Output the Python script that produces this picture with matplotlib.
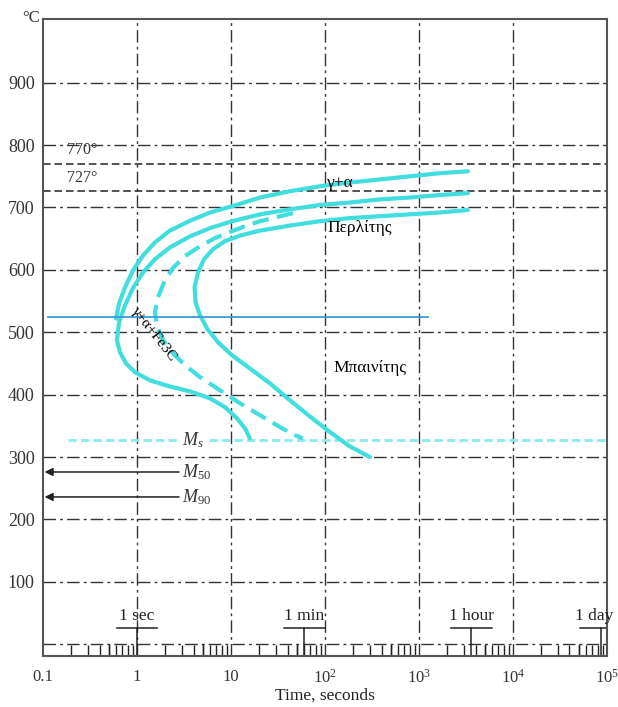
import numpy as np
import matplotlib.pyplot as plt

plt.rcParams['font.family'] = ['Liberation Serif', 'DejaVu Serif']
plt.rcParams['mathtext.fontset'] = 'custom'
plt.rcParams['mathtext.rm'] = 'Liberation Serif'
plt.rcParams['mathtext.it'] = 'Liberation Serif:italic'

# ferrite start (gamma + alpha)
t_fs = [3320, 1672, 802, 385, 184, 88.5, 42.4, 20.4, 10.3, 6.0, 3.7, 2.24, 1.55, 1.16, 0.906, 0.745, 0.644, 0.598]
T_fs = [758, 755, 750, 745, 740, 734, 726, 716, 702, 692, 679, 663, 644, 623, 599, 572, 546, 522]

# pearlite / bainite start
t_ps = [3320, 1672, 802, 385, 184, 88.5, 42.4, 20.4, 10.3, 6.0, 3.7, 2.24, 1.55, 1.16, 0.906, 0.745,
        0.644, 0.612, 0.659, 0.764, 0.95, 1.37, 2.24, 3.7, 6.0, 8.6, 11.6, 14.1, 15.9]
T_ps = [723, 720, 716, 713, 708, 704, 697, 689, 678, 667, 654, 636, 617, 596, 571, 543,
        516, 487, 468, 450, 436, 423, 413, 405, 394, 380, 362, 346, 330]

# 50% (dashed)
t_50 = [45.7, 29.4, 20.4, 14.1, 10.3, 6.76, 4.7, 3.24, 2.41, 1.94, 1.67, 1.55, 1.63, 1.85, 2.36,
        3.24, 4.7, 7.64, 12.5, 20.4, 33.2, 48, 58]
T_50 = [691, 684, 678, 670, 662, 651, 638, 622, 603, 580, 556, 532, 511, 490, 468,
        447, 428, 407, 386, 367, 348, 335, 330]

# finish
t_f = [3320, 1672, 802, 385, 184, 88.5, 42.4, 20.4, 12.5, 8.63, 6.44, 5.16, 4.46, 4.1, 4.2, 4.7,
       5.56, 7.28, 10.3, 15.9, 26.0, 42.4, 69.2, 113, 184, 301]
T_f = [696, 692, 689, 686, 683, 678, 671, 663, 655, 646, 633, 617, 596, 572, 548, 527,
       506, 484, 463, 442, 418, 391, 365, 340, 317, 300]

T_blue = 524
T_ms, T_m50, T_m90 = 327, 276, 236
T_770, T_727 = 770, 727

xticks = [0.1, 1, 10, 100, 1000, 1e4, 1e5]
xlabels = ['0.1', '1', '10', '$10^2$', '$10^3$', '$10^4$', '$10^5$']
yticks = [100, 200, 300, 400, 500, 600, 700, 800, 900]
marks = [1, 60, 3600, 86400]
mark_labels = ['1 sec', '1 min', '1 hour', '1 day']

fig = plt.figure(figsize=(6.18, 7.07), dpi=100)
ax = fig.add_axes([0.0696, 0.0721, 0.9124, 0.9009])
ax.set_xscale('log')
ax.set_xlim(0.1, 1e5)
ax.set_ylim(-19, 1002)

grid = dict(color='#333333', lw=1.0, linestyle=(0, (9, 3, 2, 3)), zorder=1)
for y in [0] + yticks:
    ax.axhline(y, **grid)
for x in xticks[1:-1]:
    ax.axvline(x, **grid)
for y in [T_770, T_727]:
    ax.axhline(y, color='#222222', lw=1.1, linestyle=(0, (5, 2.5)), zorder=1)

cyan = '#42dede'
curve = dict(color=cyan, lw=3, solid_capstyle='round', solid_joinstyle='round', zorder=3)
ax.plot(t_fs, T_fs, **curve)
ax.plot(t_ps, T_ps, **curve)
ax.plot(t_50, T_50, color=cyan, lw=3, linestyle=(0, (4, 2)), dash_joinstyle='round', zorder=3)
ax.plot(t_f, T_f, **curve)

ax.plot([0.113, 1250], [T_blue, T_blue], color='#3a9ad9', lw=1.3, zorder=4)

ms_style = dict(color='#8eeaea', lw=2, linestyle=(0, (3, 1.5)), zorder=2)
ax.plot([0.185, 2.9], [T_ms, T_ms], **ms_style)
ax.plot([5.8, 1e5], [T_ms, T_ms], **ms_style)
ax.text(3.0, T_ms, '$M_s$', fontsize=13, va='center', ha='left', color='#333333')

for T, lab in [(T_m50, '$M_{50}$'), (T_m90, '$M_{90}$')]:
    ax.annotate('', xy=(0.104, T), xytext=(2.8, T),
                arrowprops=dict(arrowstyle='-|>', color='#222222', lw=1.1,
                                mutation_scale=12, shrinkA=0, shrinkB=0))
    ax.text(3.0, T, lab, fontsize=13, va='center', ha='left', color='#333333')

ax.text(0.26, 792, '770°', fontsize=11.5, ha='center', va='center', color='#333333')
ax.text(0.26, 747, '727°', fontsize=11.5, ha='center', va='center', color='#333333')
ax.text(145, 739, 'γ+α', fontsize=12.5, ha='center', va='center')
ax.text(235, 667, 'Περλίτης', fontsize=12.5, ha='center', va='center')
ax.text(301, 442, 'Μπαινίτης', fontsize=12.5, ha='center', va='center')
ax.text(1.5, 497, 'γ+α+Fe3C', fontsize=11, ha='center', va='center', rotation=-52, zorder=6)

# time marks with small brackets
for t, lab in zip(marks, mark_labels):
    ax.plot([t / 1.65, t * 1.65], [25.6, 25.6], color='#222222', lw=1.1, zorder=2)
    ax.plot([t, t], [25.6, -19], color='#222222', lw=1.1, zorder=2)
    shift = -5 if t == marks[-1] else 0
    ax.annotate(lab, (t, 33), xytext=(shift, 0), textcoords='offset points',
                fontsize=12.5, ha='center', va='bottom', color='#222222')

# minor ticks, 5x ones longer
minor = [m * d for d in [0.1, 1, 10, 100, 1000, 1e4] for m in range(2, 10)]
ax.set_xticks(minor, minor=True)
ax.set_xticklabels([], minor=True)
ax.tick_params(axis='x', which='minor', direction='in', length=8, width=1, color='#222222')
fives = [5 * d for d in [0.1, 1, 10, 100, 1000, 1e4]]
ax.vlines(fives, 0, 0.019, transform=ax.get_xaxis_transform(), color='#222222', lw=1)

ax.set_xticks(xticks)
ax.set_xticklabels(xlabels)
ax.set_yticks(yticks)
ax.tick_params(axis='both', which='major', length=0, labelcolor='#333333')
ax.tick_params(axis='x', which='major', pad=9, labelsize=12)
ax.tick_params(axis='y', which='major', pad=6, labelsize=13)

for s in ax.spines.values():
    s.set_color('#555555')
    s.set_linewidth(1.5)

ax.set_xlabel('Time, seconds', fontsize=12.5, color='#222222', labelpad=1)
fig.text(0.05, 0.975, '°C', fontsize=12, ha='center', va='center', color='#333333')

fig.savefig('out.png', dpi=100)
